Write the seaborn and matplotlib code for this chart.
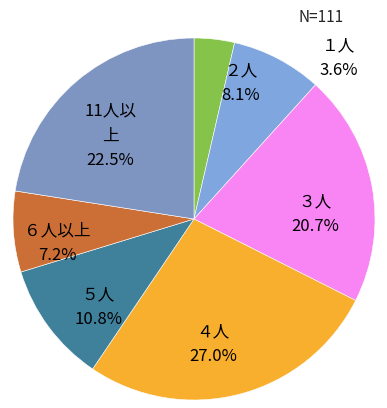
import matplotlib
matplotlib.use("Agg")
import matplotlib.pyplot as plt
import seaborn as sns

sns.set_theme(style="white")
plt.rcParams['font.family'] = ['Noto Sans CJK JP', 'DejaVu Sans']

# data
categories = ["１人", "２人", "３人", "４人", "５人", "６人以上", "11人以\n上"]
shares = [3.6, 8.1, 20.7, 27.0, 10.8, 7.2, 22.5]
colors = ["#86C34B", "#7FA6DE", "#F985F4", "#F8AF2D", "#3F809B", "#CC6F36", "#7F95C1"]
# label anchors in pie units (centre 0,0, radius 1)
label_xy = [(0.80, 0.887), (0.26, 0.75), (0.67, 0.025), (0.105, -0.69),
            (-0.53, -0.486), (-0.757, -0.133), (-0.464, 0.459)]

fig = plt.figure(figsize=(3.87, 4.08), dpi=100)
ax = fig.add_axes([12 / 387, 8 / 408, 364 / 387, 362 / 408])

wedges, _ = ax.pie(shares, colors=colors, startangle=90, counterclock=False,
                   wedgeprops=dict(edgecolor="white", linewidth=0.4))
ax.set_aspect("equal")
ax.set_xlim(-1.0, 1.0)
ax.set_ylim(-1.0, 1.0)

for cat, val, (x, y) in zip(categories, shares, label_xy):
    ax.text(x, y, f"{cat}\n{val:.1f}%", ha="center", va="center",
            fontsize=12, color="black", linespacing=1.6)

fig.text(321 / 387, 1 - 18 / 408, "N=111", ha="center", va="center", fontsize=11)

fig.savefig("out.png", dpi=100)
